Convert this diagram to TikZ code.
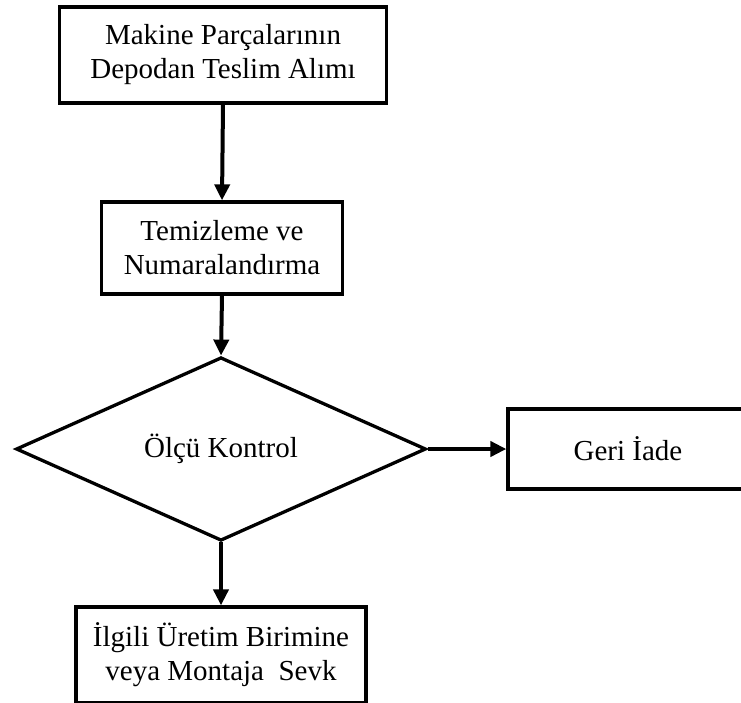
\documentclass[tikz,border=0pt]{standalone}
\usepackage{fontspec}
\setmainfont{Liberation Serif}
\usetikzlibrary{shapes.geometric,arrows.meta}

\begin{document}
\begin{tikzpicture}[x=1pt,y=-1pt,
  kutu/.style={draw,line width=3.3pt,align=center,inner sep=0pt,
    font=\fontsize{29}{34}\selectfont},
  karar/.style={draw,diamond,line width=3.3pt,inner sep=0pt,
    minimum width=410pt,minimum height=160pt,
    font=\fontsize{29}{34}\selectfont},
  ok/.style={-{Triangle[length=16pt,width=15pt]},line width=4pt}]
\useasboundingbox (0,0) rectangle (741,702);
\clip (0,0) rectangle (741,702);

\node[kutu,minimum width=327pt,minimum height=96pt] (teslim) at (223,55)
  {Makine Parçalarının\\Depodan Teslim Alımı};
\node[kutu,minimum width=241pt,minimum height=92pt] (temiz) at (222,248)
  {Temizleme ve\\Numaralandırma};
\node[karar] (olcu) at (221,449) {Ölçü Kontrol};
\node[kutu,minimum width=240pt,minimum height=80pt] (iade) at (628,449)
  {Geri İade};
\node[kutu,minimum width=290pt,minimum height=96pt] (sevk) at (221,655)
  {İlgili Üretim Birimine\\veya Montaja\ \ Sevk};

\draw[ok] (teslim.south) -- (temiz.north);
\draw[ok] (temiz.south) -- (olcu.north);
\draw[ok] (olcu.east) -- (iade.west);
\draw[ok] (olcu.south) -- (sevk.north);
\end{tikzpicture}
\end{document}
